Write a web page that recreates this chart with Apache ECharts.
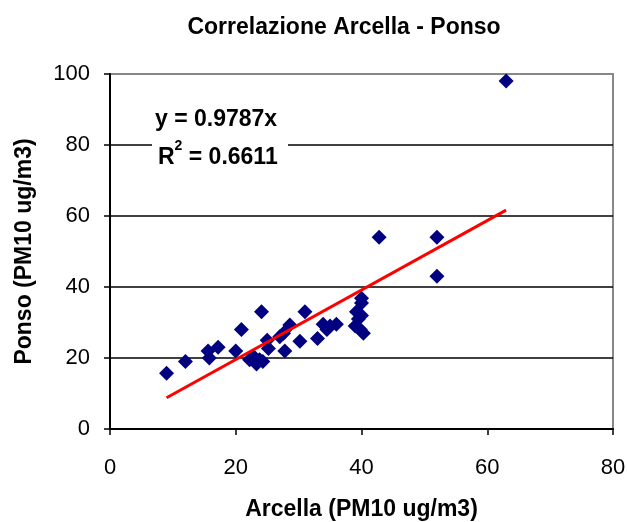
<!DOCTYPE html>
<html>
<head>
<meta charset="utf-8">
<script src="https://cdn.jsdelivr.net/npm/echarts@6/dist/echarts.min.js"></script>
<style>html,body{margin:0;padding:0;background:#fff}#c{width:627px;height:522px}</style>
</head>
<body>
<div id="c"></div>
<script>
const arcella = [9, 12, 15.6, 15.8, 17.2, 20, 20.9, 22.2, 22.8, 23.3, 23.8, 24.3, 24.1, 25, 25.2, 27, 27.8, 27.6, 28.6, 30.2, 31, 33, 33.9, 34.5, 35, 36, 39, 39.2, 39.8, 40.3, 40, 40, 40, 39.5, 42.8, 52, 52, 63];
const ponso   = [15.7, 19, 22, 20, 23, 22, 28, 19.5, 20.5, 18.3, 19.5, 19, 33, 25, 22.7, 26, 22, 27, 29.3, 24.7, 33, 25.5, 29.5, 28, 29, 29.5, 29, 33, 28, 27, 32, 36.8, 35.5, 31, 54, 54, 43, 98];
const xTicks = [0, 20, 40, 60, 80];
const yTicks = [0, 20, 40, 60, 80, 100];
const slope = 0.9787;
const r2 = 0.6611;
const trendX = [9, 63];

const points = arcella.map((x, i) => [x, ponso[i]]);
const trend = trendX.map(x => [x, +(slope * x).toFixed(3)]);
const font = 'Arial, "Liberation Sans", sans-serif';

const chart = echarts.init(document.getElementById('c'));
chart.setOption({
  animation: false,
  backgroundColor: '#fff',
  title: {
    text: 'Correlazione Arcella - Ponso',
    left: 344, top: 16, textAlign: 'center', padding: 0,
    textStyle: { fontFamily: font, fontSize: 23, fontWeight: 'bold', color: '#000' }
  },
  grid: { left: 110, right: 14, top: 74, bottom: 93, show: true, borderColor: '#888', borderWidth: 2, backgroundColor: 'transparent', outerBoundsMode: 'none', containLabel: false },
  xAxis: {
    type: 'value', min: xTicks[0], max: xTicks[xTicks.length - 1], interval: 20,
    name: 'Arcella (PM10 ug/m3)', nameLocation: 'middle', nameGap: 69,
    nameTextStyle: { fontFamily: font, fontSize: 23, fontWeight: 'bold', color: '#000' },
    axisLine: { show: true, lineStyle: { color: '#000', width: 2 } },
    axisTick: { show: true, inside: false, length: 6, lineStyle: { color: '#000', width: 1.5 } },
    axisLabel: { fontFamily: font, fontSize: 22, color: '#000', margin: 28 },
    splitLine: { show: false }
  },
  yAxis: {
    type: 'value', min: yTicks[0], max: yTicks[yTicks.length - 1], interval: 20,
    name: 'Ponso (PM10 ug/m3)', nameLocation: 'middle', nameGap: 74,
    nameTextStyle: { fontFamily: font, fontSize: 23, fontWeight: 'bold', color: '#000' },
    axisLine: { show: true, lineStyle: { color: '#000', width: 2 } },
    axisTick: { show: true, inside: false, length: 6, lineStyle: { color: '#000', width: 1.5 } },
    axisLabel: { fontFamily: font, fontSize: 22, color: '#000', margin: 20 },
    splitLine: { show: true, lineStyle: { color: ['#000', '#000', '#000', '#000', '#000', '#888'], width: 1.5 } }
  },
  series: [
    {
      type: 'scatter', data: points, symbol: 'diamond', symbolSize: 15,
      itemStyle: { color: '#000080', opacity: 1 }, z: 3
    },
    {
      type: 'line', data: trend, symbol: 'none', lineStyle: { color: '#ff0000', width: 3 }, z: 4
    }
  ],
  graphic: [
    {
      type: 'text', left: 155, top: 108, z: 10,
      style: { text: 'y = ' + slope + 'x', font: 'bold 23px ' + font, fill: '#000' }
    },
    {
      type: 'rect', shape: { x: 152, y: 140, width: 136, height: 32 }, style: { fill: '#fff' }, z: 9
    },
    {
      type: 'text', left: 158, top: 139, z: 10,
      style: {
        text: '{b|R}{sup|2}{b| = ' + r2 + '}',
        fill: '#000',
        rich: {
          b: { font: 'bold 23px ' + font, fill: '#000', padding: [7, 0, 0, 0] },
          sup: { font: 'bold 14px ' + font, fill: '#000', verticalAlign: 'top' }
        }
      }
    }
  ]
});
</script>
</body>
</html>
